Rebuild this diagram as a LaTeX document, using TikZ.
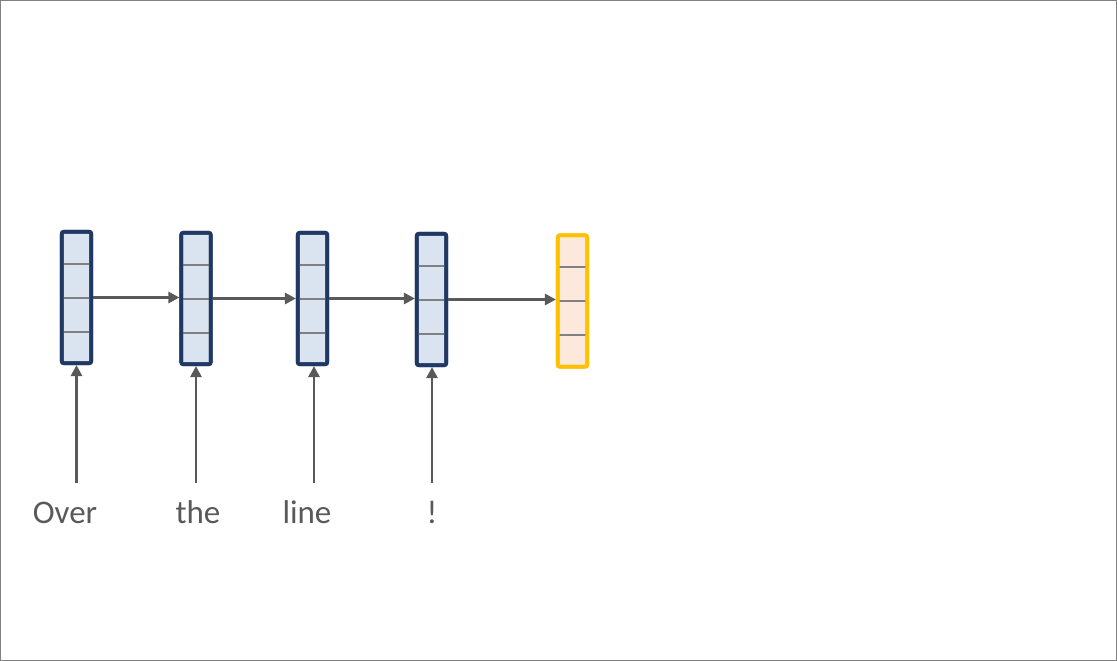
\documentclass[tikz,border=0pt]{standalone}
\usepackage{fontspec}
\setmainfont{Carlito}
\usetikzlibrary{arrows.meta,calc}
\definecolor{navy}{HTML}{1F3864}
\definecolor{cellblue}{HTML}{DAE3F0}
\definecolor{gold}{HTML}{FFC000}
\definecolor{cellpeach}{HTML}{FCE9DC}
\definecolor{arrowgray}{HTML}{595959}
\definecolor{divgray}{HTML}{808080}
\tikzset{
  vecbox/.style={draw=navy, fill=cellblue, line width=3.6pt, minimum width=29.5pt, minimum height=131.5pt, rounded corners=2pt, inner sep=0pt},
  outbox/.style={vecbox, draw=gold, fill=cellpeach},
  divider/.style={draw=divgray, line width=2pt},
  conn/.style={draw=arrowgray, line width=2.8pt, -{Triangle[length=11pt,width=11pt]}},
  word/.style={text=arrowgray, font=\fontsize{33}{38}\selectfont, inner sep=0pt, anchor=base}
}
\begin{document}
\begin{tikzpicture}[x=1pt,y=-1pt]
\useasboundingbox (0,0) rectangle (1117,661);
\draw[draw=divgray, line width=1pt] (0.5,0.5) rectangle (1116.5,660.5);
\node[vecbox] (b1) at (76.5,297.5) {};
\node[vecbox] (b2) at (196,298.5) {};
\node[vecbox] (b3) at (312.5,298.5) {};
\node[vecbox] (b4) at (431.5,299.5) {};
\node[outbox] (b5) at (572.5,301) {};
\foreach \b in {b1,b2,b3,b4,b5}{
  \foreach \d in {-34,0,34}{
    \draw[divider] ($(\b.center)+(-13.5,\d)$) -- ($(\b.center)+(13.5,\d)$);
  }
}
\node[vecbox, fill=none] at (b1) {};
\node[vecbox, fill=none] at (b2) {};
\node[vecbox, fill=none] at (b3) {};
\node[vecbox, fill=none] at (b4) {};
\node[outbox, fill=none] at (b5) {};
\draw[conn] (b1.east) -- (b1.east -| b2.west);
\draw[conn] (b2.east) -- (b2.east -| b3.west);
\draw[conn] (b3.east) -- (b3.east -| b4.west);
\draw[conn] (b4.east) -- (b4.east -| b5.west);
\coordinate (s1) at (76.5,483);
\coordinate (s2) at (196,483);
\coordinate (s3) at (314,483);
\coordinate (s4) at (432,483);
\draw[conn] (s1) -- (s1 |- b1.south);
\draw[conn] (s2) -- (s2 |- b2.south);
\draw[conn] (s3) -- (s3 |- b3.south);
\draw[conn] (s4) -- (s4 |- b4.south);
\node[word] (w1) at (65,523) {Over};
\node[word] (w2) at (198,523) {the};
\node[word] (w3) at (307,523) {line};
\node[word] (w4) at (432,523) {!};
\end{tikzpicture}
\end{document}
